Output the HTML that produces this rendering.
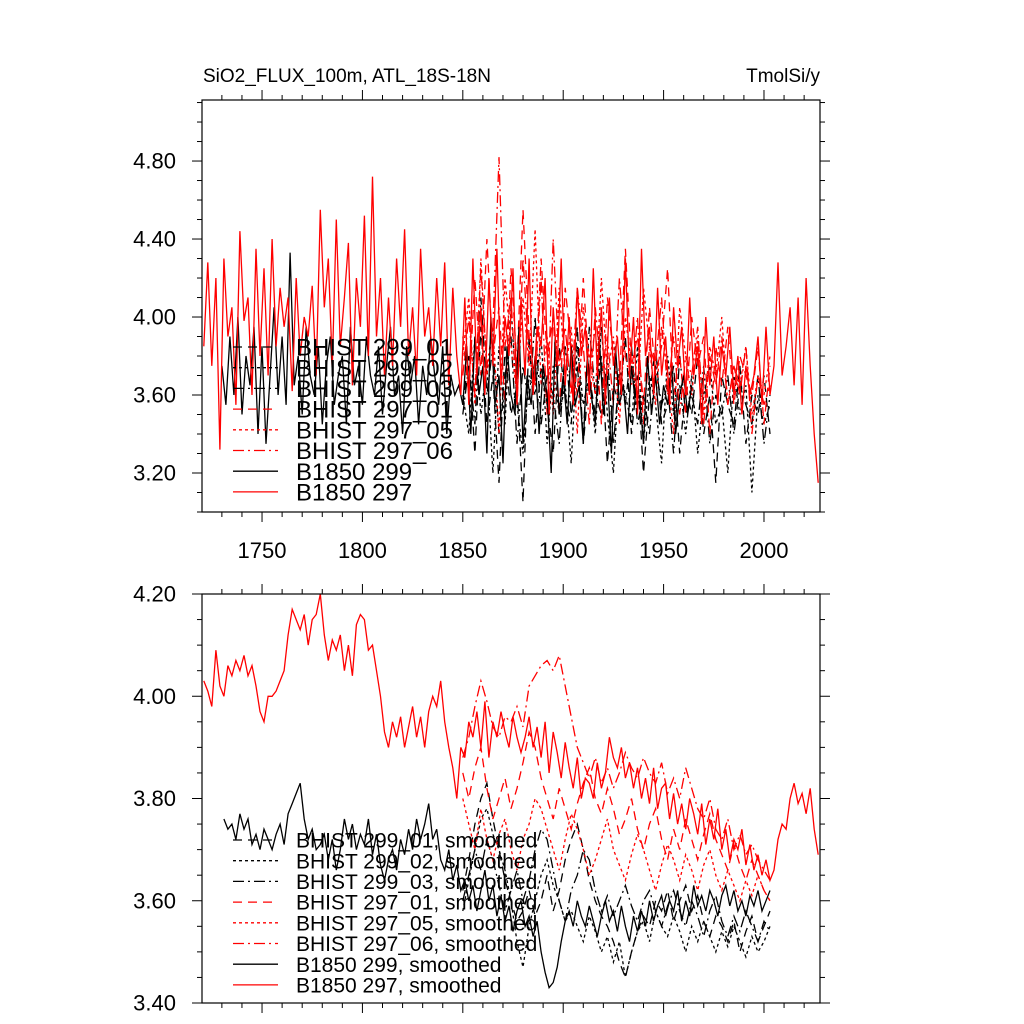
<!DOCTYPE html>
<html><head><meta charset="utf-8"><style>
html,body{margin:0;padding:0;background:#fff;}
svg{display:block;font-family:"Liberation Sans",sans-serif;}
</style></head><body>
<svg id="chart" width="1024" height="1024" viewBox="0 0 1024 1024" xmlns="http://www.w3.org/2000/svg">
<text x="203" y="82" font-size="19">SiO2_FLUX_100m, ATL_18S-18N</text>
<text x="820" y="82" font-size="19" text-anchor="end">TmolSi/y</text>
<g id="top"></g>
<g id="bot"></g>
</svg>
<script>
// ---- data (top panel: annual) ----
const topXTicks = [1750, 1800, 1850, 1900, 1950, 2000];
const topYTicks = [3.20, 3.60, 4.00, 4.40, 4.80];
const botYTicks = [3.40, 3.60, 3.80, 4.00, 4.20];
const b297Start = 1721, b297Step = 2;
const b297 = [3.85,4.28,3.75,4.20,3.32,4.30,3.90,4.05,3.55,4.44,3.98,4.10,3.60,4.35,3.80,4.25,3.70,4.40,3.85,4.15,3.95,4.10,3.62,4.20,3.80,4.00,3.90,4.16,3.70,4.55,4.05,4.30,3.75,4.50,3.85,4.10,4.38,3.65,4.20,3.95,4.52,3.80,4.72,3.90,4.20,3.70,4.10,3.75,4.30,3.95,4.45,3.80,4.05,3.70,4.35,3.90,4.05,3.75,4.20,3.85,4.28,3.65,4.15,3.80,3.60,
4.10,3.55,4.30,3.70,4.05,3.60,4.20,3.75,4.35,3.65,4.00,3.80,4.25,3.55,4.10,3.70,4.30,3.60,3.95,3.85,4.20,3.50,4.05,3.75,4.30,3.65,4.00,3.55,4.15,3.80,3.95,3.60,4.25,3.70,4.05,3.55,4.10,3.75,3.90,3.60,4.30,3.70,4.00,3.50,4.35,3.80,3.95,3.60,4.15,3.70,3.90,3.55,4.05,3.75,3.95,3.60,4.10,3.70,3.85,3.45,4.00,3.65,3.90,3.55,3.85,3.70,3.95,3.60,3.80,3.50,3.75,3.60,3.70,3.90,3.55,3.95,3.60,3.75,4.28,3.70,3.85,4.05,3.65,4.10,3.55,4.20,3.75,3.40,3.15];
const b299Start = 1730, b299Step = 2;
const b299 = [3.75,3.55,3.90,3.60,4.00,3.50,3.80,3.65,3.95,3.40,3.85,3.35,3.70,4.05,3.60,3.90,3.55,4.33,3.65,3.80,3.50,3.95,3.70,3.60,3.85,3.45,3.75,3.90,3.55,3.70,3.80,3.45,3.95,3.65,3.75,3.55,3.90,3.70,3.60,3.85,3.50,3.75,3.95,3.60,3.70,3.40,3.85,3.65,3.80,3.45,3.75,3.60,3.90,3.70,3.55,3.85,3.40,3.70,3.60,3.65,
3.55,3.85,3.40,3.90,3.60,3.75,3.30,4.00,3.55,3.70,3.25,3.85,3.60,3.50,3.95,3.35,3.70,3.55,3.80,3.40,3.75,3.60,3.20,3.90,3.50,3.70,3.45,3.85,3.55,3.65,3.35,3.80,3.60,3.45,3.90,3.50,3.70,3.30,3.85,3.55,3.65,3.40,3.75,3.55,3.60,3.35,3.80,3.50,3.70,3.45,3.65,3.55,3.75,3.40,3.60,3.70,3.50,3.65];
const histStart = 1850, histStep = 3;
const h299_01 = [3.55,3.80,3.30,3.95,3.45,3.70,3.15,3.85,3.50,3.65,3.05,3.90,3.40,3.75,3.55,3.30,3.85,3.60,3.45,3.95,3.35,3.70,3.50,3.80,3.25,3.65,3.55,3.90,3.40,3.70,3.20,3.60,3.85,3.45,3.55,3.75,3.30,3.65,3.50,3.80,3.40,3.60,3.15,3.70,3.55,3.45,3.75,3.35,3.60,3.50,3.70,3.40];
const h299_02 = [3.60,3.40,3.90,3.50,3.75,3.20,3.85,3.45,4.05,3.55,3.30,3.70,3.60,3.90,3.35,3.75,3.50,3.65,3.25,3.85,3.55,3.70,3.40,3.95,3.50,3.20,3.75,3.60,3.45,3.85,3.35,3.70,3.55,3.25,3.80,3.50,3.65,3.40,3.70,3.30,3.60,3.75,3.45,3.55,3.20,3.70,3.50,3.65,3.10,3.60,3.45,3.55];
const h299_03 = [3.50,3.75,3.45,4.10,3.60,3.85,3.40,3.70,3.90,3.35,3.75,3.55,4.00,3.45,3.70,3.60,3.35,3.85,3.50,3.75,3.40,3.95,3.60,3.50,3.80,3.35,3.70,3.55,3.85,3.45,3.60,3.40,3.75,3.55,3.65,3.30,3.80,3.50,3.60,3.45,3.75,3.35,3.60,3.50,3.70,3.40,3.65,3.55,3.45,3.70,3.35,3.60];
const h297_01 = [3.90,3.60,4.20,3.70,4.40,3.80,4.05,3.55,4.25,3.75,4.55,3.90,3.65,4.30,3.80,4.00,3.50,4.15,3.85,3.60,4.20,3.70,3.95,3.45,4.10,3.80,3.65,4.35,3.75,3.90,3.55,4.05,3.70,3.85,4.25,3.60,3.80,3.50,4.00,3.75,3.90,3.40,3.85,3.65,3.95,3.55,3.80,3.70,3.60,3.85,3.45,3.75];
const h297_05 = [3.80,4.10,3.55,4.30,3.70,3.95,3.40,4.20,3.85,3.60,4.10,3.75,4.45,3.65,3.90,3.50,4.15,3.70,3.95,3.40,4.05,3.80,3.60,4.20,3.70,3.90,3.45,4.00,3.75,3.60,4.15,3.85,3.55,3.95,3.70,3.40,4.05,3.80,3.60,3.90,3.50,3.85,3.70,4.00,3.55,3.75,3.65,3.85,3.50,3.70,3.60,3.80];
const h297_06 = [3.70,4.00,3.60,4.25,3.75,3.95,4.82,3.85,4.10,3.55,4.30,3.80,3.65,4.20,3.50,4.40,3.75,3.95,3.60,4.15,3.85,3.45,4.05,3.70,3.90,3.55,4.20,3.80,3.65,4.00,3.45,3.85,3.75,4.10,3.60,3.90,3.50,3.80,3.70,3.95,3.45,3.80,3.65,3.90,3.55,3.75,3.60,3.85,3.40,3.70,3.55,3.65];
// ---- data (bottom panel: smoothed) ----
const b297sStart = 1721, b297sStep = 2;
const b297s = [4.03,4.01,3.98,4.09,4.02,4.00,4.06,4.04,4.07,4.05,4.08,4.04,4.06,4.02,3.97,3.95,4.00,4.00,4.01,4.03,4.05,4.12,4.17,4.15,4.13,4.16,4.10,4.15,4.16,4.20,4.12,4.07,4.11,4.09,4.12,4.05,4.10,4.04,4.14,4.16,4.15,4.09,4.10,4.05,4.00,3.93,3.90,3.95,3.92,3.96,3.90,3.94,3.98,3.92,3.96,3.90,3.97,4.00,3.98,4.03,3.95,3.90,3.86,3.80,3.90,3.88,3.95,3.92,3.97,3.90,3.99,3.88,3.95,3.92,3.97,3.93,3.90,3.96,3.92,3.89,3.92,3.96,3.90,3.94,3.88,3.95,3.85,3.93,3.89,3.84,3.91,3.86,3.82,3.88,3.80,3.84,3.83,3.80,3.87,3.82,3.85,3.92,3.88,3.86,3.90,3.84,3.87,3.82,3.86,3.80,3.84,3.79,3.86,3.78,3.82,3.83,3.76,3.81,3.75,3.79,3.74,3.80,3.77,3.73,3.79,3.71,3.76,3.72,3.78,3.70,3.74,3.68,3.72,3.70,3.74,3.67,3.71,3.66,3.69,3.65,3.68,3.64,3.66,3.72,3.75,3.74,3.80,3.83,3.79,3.81,3.77,3.82,3.74,3.69];
const b299sStart = 1731, b299sStep = 2;
const b299s = [3.76,3.74,3.75,3.72,3.77,3.74,3.76,3.71,3.73,3.70,3.74,3.72,3.70,3.73,3.75,3.71,3.77,3.79,3.81,3.83,3.76,3.72,3.74,3.70,3.71,3.73,3.68,3.72,3.66,3.70,3.76,3.72,3.75,3.70,3.73,3.71,3.76,3.69,3.73,3.67,3.64,3.68,3.70,3.66,3.72,3.69,3.74,3.70,3.76,3.72,3.75,3.79,3.72,3.74,3.68,3.66,3.70,3.64,3.67,3.62,3.64,3.60,3.63,3.58,3.62,3.66,3.60,3.63,3.57,3.61,3.56,3.59,3.54,3.58,3.60,3.55,3.57,3.53,3.56,3.50,3.46,3.43,3.44,3.47,3.52,3.56,3.58,3.55,3.60,3.57,3.55,3.59,3.56,3.53,3.57,3.60,3.56,3.58,3.54,3.59,3.55,3.52,3.57,3.54,3.58,3.55,3.60,3.56,3.59,3.61,3.57,3.60,3.58,3.62,3.56,3.60,3.57,3.63,3.59,3.61,3.58,3.62,3.60,3.57,3.61,3.63,3.59,3.62,3.58,3.60,3.57,3.61,3.59,3.62,3.58,3.60,3.62];
const h299_01s = [3.62,3.68,3.75,3.80,3.83,3.76,3.70,3.64,3.60,3.56,3.58,3.62,3.57,3.60,3.65,3.58,3.62,3.68,3.72,3.75,3.70,3.64,3.60,3.57,3.55,3.52,3.48,3.45,3.50,3.54,3.57,3.55,3.60,3.58,3.62,3.56,3.60,3.63,3.58,3.61,3.56,3.53,3.57,3.55,3.52,3.56,3.50,3.54,3.57,3.52,3.55,3.58];
const h299_02s = [3.58,3.64,3.70,3.76,3.78,3.73,3.70,3.66,3.60,3.52,3.47,3.55,3.60,3.65,3.68,3.63,3.60,3.56,3.58,3.55,3.52,3.57,3.54,3.50,3.53,3.48,3.52,3.45,3.50,3.54,3.56,3.52,3.58,3.55,3.53,3.57,3.54,3.50,3.55,3.52,3.56,3.53,3.50,3.54,3.51,3.55,3.52,3.49,3.53,3.50,3.52,3.55];
const h299_03s = [3.60,3.65,3.70,3.66,3.72,3.68,3.63,3.58,3.62,3.66,3.60,3.64,3.70,3.74,3.72,3.66,3.60,3.56,3.62,3.65,3.70,3.68,3.62,3.58,3.61,3.57,3.60,3.63,3.59,3.56,3.60,3.62,3.58,3.55,3.59,3.62,3.58,3.55,3.60,3.57,3.53,3.58,3.61,3.56,3.53,3.57,3.54,3.58,3.55,3.52,3.56,3.54];
const h297_01s = [3.85,3.80,3.86,3.90,3.82,3.76,3.80,3.84,3.78,3.82,3.87,3.93,3.90,3.84,3.80,3.76,3.82,3.78,3.74,3.79,3.83,3.86,3.80,3.77,3.82,3.78,3.73,3.76,3.80,3.74,3.70,3.75,3.78,3.72,3.68,3.74,3.70,3.76,3.72,3.68,3.73,3.77,3.72,3.69,3.66,3.71,3.67,3.64,3.68,3.65,3.62,3.60];
const h297_05s = [3.80,3.75,3.70,3.78,3.72,3.68,3.73,3.76,3.70,3.66,3.72,3.75,3.80,3.78,3.74,3.70,3.66,3.72,3.77,3.74,3.70,3.65,3.68,3.72,3.76,3.70,3.67,3.64,3.69,3.73,3.70,3.66,3.62,3.67,3.71,3.68,3.64,3.69,3.66,3.62,3.67,3.70,3.65,3.62,3.66,3.63,3.60,3.64,3.61,3.65,3.62,3.60];
const h297_06s = [3.88,3.92,3.98,4.03,3.99,3.94,3.92,3.96,3.95,3.98,3.94,4.02,4.04,4.06,4.07,4.05,4.08,4.02,3.96,3.90,3.87,3.84,3.88,3.83,3.86,3.82,3.85,3.89,3.86,3.84,3.88,3.85,3.83,3.87,3.81,3.84,3.80,3.86,3.82,3.78,3.76,3.80,3.74,3.72,3.76,3.70,3.73,3.69,3.71,3.68,3.66,3.64];
const topLegend = ["BHIST 299_01","BHIST 299_02","BHIST 299_03","BHIST 297_01","BHIST 297_05","BHIST 297_06","B1850 299","B1850 297"];
const botLegend = ["BHIST 299_01, smoothed","BHIST 299_02, smoothed","BHIST 299_03, smoothed","BHIST 297_01, smoothed","BHIST 297_05, smoothed","BHIST 297_06, smoothed","B1850 299, smoothed","B1850 297, smoothed"];

const NS = "http://www.w3.org/2000/svg";
const X0 = 202, X1 = 820, YR0 = 1720.1, YR1 = 2027.9;
const xs = y => X0 + (y - YR0) / (YR1 - YR0) * (X1 - X0);
const styles = [
  {c:"#000", d:"9,6"}, {c:"#000", d:"3,3"}, {c:"#000", d:"11,4,2,4"},
  {c:"#f00", d:"9,6"}, {c:"#f00", d:"3,3"}, {c:"#f00", d:"11,4,2,4"},
  {c:"#000", d:""}, {c:"#f00", d:""}
];
function mk(tag, attrs, parent) {
  const e = document.createElementNS(NS, tag);
  for (const k in attrs) e.setAttribute(k, attrs[k]);
  parent.appendChild(e);
  return e;
}
function drawPanel(g, yT, yB, vMin, vMax, yTicks, minorStep, showX, series, legend, legY, legFont, name) {
  const ys = v => yB - (v - vMin) / (vMax - vMin) * (yB - yT);
  series.forEach((s, i) => {
    let d = "";
    s.vals.forEach((v, j) => { d += (j ? "L" : "M") + xs(s.start + j * s.step).toFixed(1) + "," + ys(v).toFixed(1); });
    const p = mk("path", {d: d, fill: "none", stroke: styles[i].c, "stroke-width": 1.3, "stroke-dasharray": styles[i].d}, g);
    
    
  });
  const f = mk("rect", {x: X0, y: yT, width: X1 - X0, height: yB - yT, fill: "none", stroke: "#000", "stroke-width": 1.2}, g);
  
  
  for (let yr = 1730; yr <= 2020; yr += 10) {
    const x = xs(yr), major = yr % 50 === 0, L = major ? 10 : 5;
    mk("line", {x1: x, x2: x, y1: yB, y2: yB + L, stroke: "#000", "stroke-width": 1}, g);
    mk("line", {x1: x, x2: x, y1: yT, y2: yT - L, stroke: "#000", "stroke-width": 1}, g);
  }
  if (showX) topXTicks.forEach(yr => {
    const t = mk("text", {x: xs(yr), y: yB + 46, "font-size": 22, "text-anchor": "middle"}, g);
    t.textContent = yr;
    
    
  });
  const major = yTicks[1] - yTicks[0];
  for (let v = vMin - major; v <= vMax + 1e-6; v += minorStep) {
    if (v < vMin - 1e-6) continue;
    const y = ys(v);
    const isMaj = yTicks.some(t => Math.abs(t - v) < 1e-6), L = isMaj ? 10 : 5;
    mk("line", {x1: X0, x2: X0 - L, y1: y, y2: y, stroke: "#000", "stroke-width": 1}, g);
    mk("line", {x1: X1, x2: X1 + L, y1: y, y2: y, stroke: "#000", "stroke-width": 1}, g);
  }
  yTicks.forEach(v => {
    const t = mk("text", {x: 176, y: ys(v) + 7.5, "font-size": 22, "text-anchor": "end"}, g);
    t.textContent = v.toFixed(2);
    
    
  });
  legend.forEach((lab, i) => {
    const y = legY + i * 20.7;
    const ln = mk("line", {x1: 233, x2: 278, y1: y, y2: y, stroke: styles[i].c, "stroke-width": 1.3, "stroke-dasharray": styles[i].d}, g);
    
    
    const t = mk("text", {x: 296, y: y + legFont * 0.36, "font-size": legFont}, g);
    t.textContent = lab;
    
    
  });
}
drawPanel(document.getElementById("top"), 100, 512, 3.0, 5.113, topYTicks, 0.1, true, [
  {vals: h299_01, start: histStart, step: histStep},
  {vals: h299_02, start: histStart, step: histStep},
  {vals: h299_03, start: histStart, step: histStep},
  {vals: h297_01, start: histStart, step: histStep},
  {vals: h297_05, start: histStart, step: histStep},
  {vals: h297_06, start: histStart, step: histStep},
  {vals: b299, start: b299Start, step: b299Step},
  {vals: b297, start: b297Start, step: b297Step}
], topLegend, 347, 24, "top");
drawPanel(document.getElementById("bot"), 594, 1003, 3.4, 4.2, botYTicks, 0.05, false, [
  {vals: h299_01s, start: histStart, step: histStep},
  {vals: h299_02s, start: histStart, step: histStep},
  {vals: h299_03s, start: histStart, step: histStep},
  {vals: h297_01s, start: histStart, step: histStep},
  {vals: h297_05s, start: histStart, step: histStep},
  {vals: h297_06s, start: histStart, step: histStep},
  {vals: b299s, start: b299sStart, step: b299sStep},
  {vals: b297s, start: b297sStart, step: b297sStep}
], botLegend, 840, 21, "bottom");
</script>
</body></html>
